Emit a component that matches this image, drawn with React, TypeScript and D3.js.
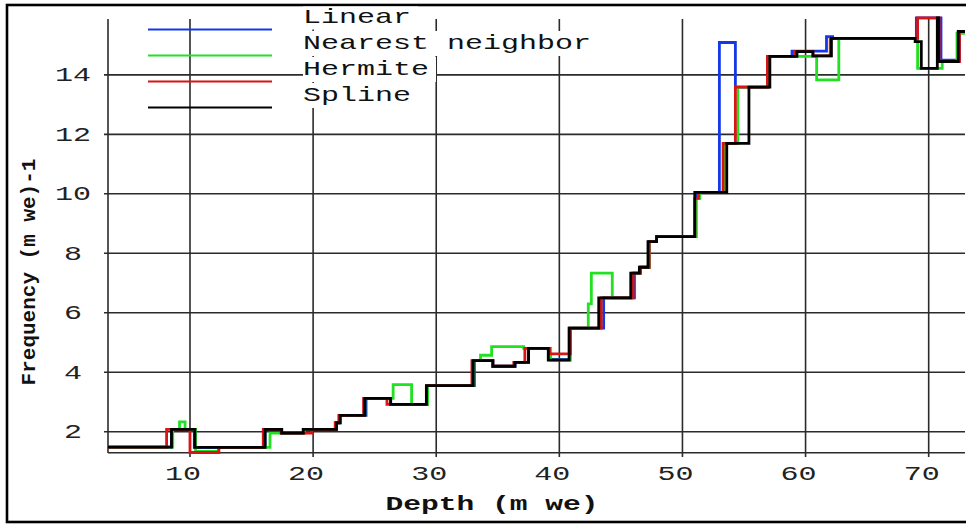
import React from 'react';
import * as d3 from 'd3';

// depth (m we) / frequency step values
const linearSteps: number[][] = [
  [3.34, 1.48], [8.5, 2.08], [10.35, 1.47], [16.1, 2.08], [17.45, 1.95], [19.2, 2.08],
  [21.9, 2.3], [22.2, 2.55], [24.3, 3.12], [26.3, 2.92], [29.3, 3.55], [33.1, 4.39],
  [34.6, 4.2], [36.4, 4.33], [37.5, 4.8], [39.2, 4.43], [40.8, 5.48], [43.6, 6.5],
  [46.1, 7.33], [46.6, 7.53], [47.3, 8.39], [47.9, 8.56], [51.1, 10.05], [53.0, 15.09],
  [54.3, 13.59], [56.9, 14.62], [58.9, 14.8], [61.7, 15.29], [62.2, 15.23], [69.0, 15.92],
  [71.0, 14.5], [72.5, 15.46], [72.95, 15.46],
];
const nearestSteps: number[][] = [
  [3.34, 1.48], [8.6, 2.08], [9.15, 2.33], [9.6, 2.08], [10.45, 1.34], [12.3, 1.47],
  [16.5, 1.95], [19.3, 2.08], [21.8, 2.3], [22.1, 2.55], [24.2, 3.12], [26.5, 3.58],
  [28.0, 2.92], [29.3, 3.55], [33.0, 4.39], [33.6, 4.57], [34.5, 4.86], [37.1, 4.8],
  [39.3, 4.41], [40.9, 5.48], [42.35, 6.3], [42.6, 7.33], [44.3, 6.5], [45.9, 7.33],
  [46.6, 7.53], [47.3, 8.39], [47.9, 8.56], [51.1, 9.85], [51.4, 10.05], [53.4, 11.7],
  [54.5, 13.59], [57.0, 14.62], [60.9, 13.83], [62.7, 15.23], [69.1, 14.22], [71.1, 14.45],
  [72.3, 15.4], [72.95, 15.4],
];
const hermiteSteps: number[][] = [
  [3.34, 1.48], [8.1, 2.08], [10.0, 1.3], [12.35, 1.47], [15.95, 2.08], [17.4, 1.95],
  [19.9, 2.08], [21.8, 2.3], [22.1, 2.55], [24.1, 3.12], [26.0, 2.92], [29.2, 3.55],
  [32.9, 4.39], [34.6, 4.2], [36.3, 4.33], [37.2, 4.8], [39.2, 4.62], [40.9, 5.48],
  [43.4, 6.5], [46.0, 7.33], [46.6, 7.53], [47.3, 8.39], [47.9, 8.56], [51.0, 9.85],
  [51.3, 10.05], [53.3, 11.7], [54.3, 13.59], [56.9, 14.62], [59.1, 14.78], [60.6, 14.64],
  [62.0, 15.23], [69.1, 15.92], [70.85, 14.45], [72.5, 15.46], [72.95, 15.46],
];
const splineSteps: number[][] = [
  [3.34, 1.48], [8.5, 2.08], [10.4, 1.47], [16.1, 2.08], [17.45, 1.95], [19.2, 2.08],
  [21.9, 2.3], [22.2, 2.55], [24.2, 3.12], [26.3, 2.92], [29.2, 3.55], [33.0, 4.39],
  [34.6, 4.2], [36.4, 4.33], [37.5, 4.8], [39.1, 4.41], [40.8, 5.48], [43.2, 6.5],
  [45.8, 7.33], [46.5, 7.53], [47.2, 8.39], [47.9, 8.56], [51.0, 10.05], [53.6, 11.7],
  [55.4, 13.59], [57.1, 14.62], [59.3, 14.78], [60.6, 14.64], [62.1, 15.23], [68.9, 15.12],
  [69.4, 14.22], [70.7, 15.92], [70.8, 14.45], [72.4, 15.46], [72.95, 15.46],
];

const seriesNames = ['Linear', 'Nearest neighbor', 'Hermite', 'Spline'];
const seriesColors = ['#1438e6', '#22e022', '#d81414', '#000000'];
const seriesData = [linearSteps, nearestSteps, hermiteSteps, splineSteps];

const xTicks = [10, 20, 30, 40, 50, 60, 70];
const yTicks = [2, 4, 6, 8, 10, 12, 14];

const FONT = '"Liberation Mono", "DejaVu Sans Mono", monospace';

const App = () => {
  const width = 966;
  const height = 524;
  const x = d3.scaleLinear().domain([3.34, 72.95]).range([108, 965]);
  const y = d3.scaleLinear().domain([1.293, 15.88]).range([452.7, 19]);
  const line = d3.line<number[]>()
    .x(d => x(d[0]))
    .y(d => y(d[1]))
    .curve(d3.curveStepAfter);

  const gridColor = '#2b2b2b';

  return (
    <svg width={width} height={height} style={{ position: 'absolute', left: 0, top: 0, background: '#fff' }}>
      {/* outer frame */}
      <rect x={7} y={5} width={970} height={517} fill="none" stroke="#000" strokeWidth={2.6} />

      {/* grid + ticks */}
      {xTicks.map(t => (
        <line key={'gx' + t} x1={x(t)} x2={x(t)} y1={19} y2={457} stroke={gridColor} strokeWidth={1.6} />
      ))}
      {yTicks.map(t => (
        <line key={'gy' + t} x1={104} x2={965} y1={y(t)} y2={y(t)} stroke={gridColor} strokeWidth={1.6} />
      ))}
      {/* axes */}
      <line x1={108} x2={108} y1={19} y2={453} stroke={gridColor} strokeWidth={1.6} />
      <line x1={108} x2={965} y1={452.7} y2={452.7} stroke={gridColor} strokeWidth={1.6} />

      {/* tick labels */}
      {xTicks.map(t => (
        <text key={'tx' + t} transform={`translate(${x(t) - 7},480) scale(1.5,1)`} textAnchor="middle"
          fontFamily={FONT} fontSize={20} fill="#222">{t}</text>
      ))}
      {yTicks.map(t => (
        <text key={'ty' + t} transform={`translate(73,${y(t) + 6.5}) scale(1.5,1)`} textAnchor="middle"
          fontFamily={FONT} fontSize={20} fill="#222">{t}</text>
      ))}

      {/* axis titles */}
      <text transform="translate(492,510) scale(1.48,1)" textAnchor="middle" fontFamily={FONT}
        fontSize={20} fontWeight="bold" fill="#111">Depth (m we)</text>
      <text transform="translate(35,272) rotate(-90)" textAnchor="middle" fontFamily={FONT}
        fontSize={21} fontWeight="bold" fill="#111">Frequency (m we)-1</text>

      {/* series */}
      {seriesData.map((d, i) => (
        <path key={'s' + i} d={line(d) || ''} fill="none" stroke={seriesColors[i]} strokeWidth={2.8} />
      ))}

      {/* legend */}
      {seriesNames.map((name, i) => {
        const base = 23 + i * 26;
        return (
          <g key={'lg' + i}>
            <rect x={303} y={i === 0 ? 6.5 : base - 18} width={name.length * 18 + 7} height={i === 0 ? 23 : 25} fill="#fff" />
            <text transform={`translate(303,${base}) scale(1.5,1)`} fontFamily={FONT} fontSize={20} fill="#111">{name}</text>
            <line x1={148} x2={272} y1={base + 6.5} y2={base + 6.5} stroke={seriesColors[i]} strokeWidth={2.2} />
          </g>
        );
      })}
    </svg>
  );
};

export default App;
